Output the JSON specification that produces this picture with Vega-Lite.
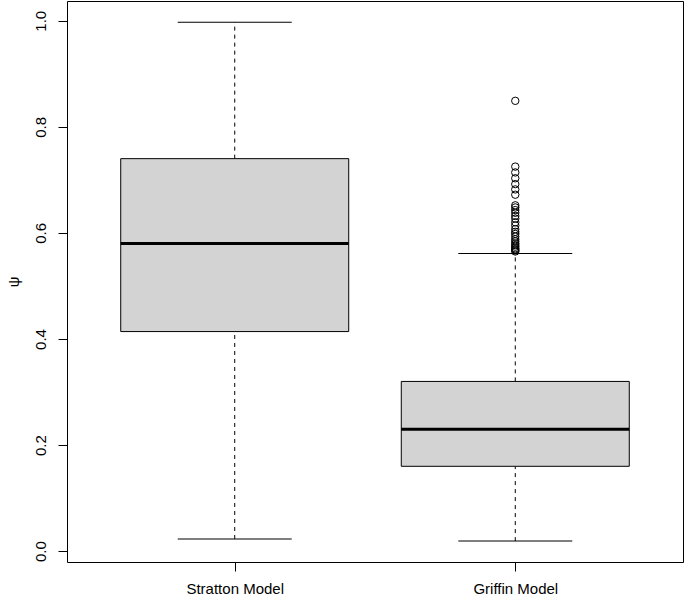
{
  "$schema": "https://vega.github.io/schema/vega-lite/v6.json",
  "width": 616,
  "height": 561,
  "autosize": {"type": "none"},
  "padding": {"left": 67, "top": 1, "right": 2, "bottom": 38},
  "background": "white",
  "config": {
    "view": {"stroke": "black", "strokeWidth": 1},
    "font": "Liberation Sans",
    "axis": {"labelFont": "Liberation Sans", "titleFont": "Liberation Sans", "labelColor": "black", "titleColor": "black", "tickColor": "black", "grid": false, "domain": false}
  },
  "datasets": {
    "stats": [
      {"model": "Stratton Model", "pos": 1, "lo": 0.023, "q1": 0.414, "median": 0.580, "q3": 0.740, "hi": 0.997},
      {"model": "Griffin Model", "pos": 2, "lo": 0.019, "q1": 0.160, "median": 0.230, "q3": 0.320, "hi": 0.561}
    ],
    "outliers": [
      {"pos": 2, "value": 0.849},
      {"pos": 2, "value": 0.725},
      {"pos": 2, "value": 0.714},
      {"pos": 2, "value": 0.703},
      {"pos": 2, "value": 0.692},
      {"pos": 2, "value": 0.682},
      {"pos": 2, "value": 0.672},
      {"pos": 2, "value": 0.652},
      {"pos": 2, "value": 0.648},
      {"pos": 2, "value": 0.643},
      {"pos": 2, "value": 0.638},
      {"pos": 2, "value": 0.632},
      {"pos": 2, "value": 0.627},
      {"pos": 2, "value": 0.620},
      {"pos": 2, "value": 0.614},
      {"pos": 2, "value": 0.607},
      {"pos": 2, "value": 0.602},
      {"pos": 2, "value": 0.598},
      {"pos": 2, "value": 0.593},
      {"pos": 2, "value": 0.588},
      {"pos": 2, "value": 0.584},
      {"pos": 2, "value": 0.580},
      {"pos": 2, "value": 0.577},
      {"pos": 2, "value": 0.574},
      {"pos": 2, "value": 0.571},
      {"pos": 2, "value": 0.569},
      {"pos": 2, "value": 0.567},
      {"pos": 2, "value": 0.565}
    ]
  },
  "layer": [
    {
      "data": {"name": "stats"},
      "mark": {"type": "rule", "color": "black", "strokeWidth": 1, "strokeDash": [4, 4]},
      "encoding": {
        "x": {"field": "pos", "type": "quantitative", "scale": {"domain": [0.42, 2.58], "nice": false, "zero": false},
              "axis": {"values": [1, 2], "labelExpr": "datum.value == 1 ? 'Stratton Model' : 'Griffin Model'", "title": null, "tickSize": 9, "labelFontSize": 15, "labelPadding": 10}},
        "y": {"field": "q3", "type": "quantitative", "scale": {"domain": [-0.0204, 1.0372], "nice": false, "zero": false},
              "axis": {"values": [0, 0.2, 0.4, 0.6, 0.8, 1.0], "format": ".1f", "title": "ψ", "titleFontSize": 15, "titleFontWeight": "normal", "titlePadding": 12, "labelAngle": -90, "labelAlign": "center", "labelBaseline": "bottom", "labelFontSize": 15, "labelPadding": 10, "tickSize": 9}},
        "y2": {"field": "hi"}
      }
    },
    {
      "data": {"name": "stats"},
      "mark": {"type": "rule", "color": "black", "strokeWidth": 1, "strokeDash": [4, 4]},
      "encoding": {
        "x": {"field": "pos", "type": "quantitative"},
        "y": {"field": "lo", "type": "quantitative"},
        "y2": {"field": "q1"}
      }
    },
    {
      "data": {"name": "stats"},
      "mark": {"type": "tick", "orient": "horizontal", "color": "black", "opacity": 1, "size": 114, "thickness": 1},
      "encoding": {
        "x": {"field": "pos", "type": "quantitative"},
        "y": {"field": "hi", "type": "quantitative"}
      }
    },
    {
      "data": {"name": "stats"},
      "mark": {"type": "tick", "orient": "horizontal", "color": "black", "opacity": 1, "size": 114, "thickness": 1},
      "encoding": {
        "x": {"field": "pos", "type": "quantitative"},
        "y": {"field": "lo", "type": "quantitative"}
      }
    },
    {
      "data": {"name": "stats"},
      "mark": {"type": "bar", "size": 228, "fill": "#D3D3D3", "stroke": "black", "strokeWidth": 1},
      "encoding": {
        "x": {"field": "pos", "type": "quantitative"},
        "y": {"field": "q1", "type": "quantitative"},
        "y2": {"field": "q3"}
      }
    },
    {
      "data": {"name": "stats"},
      "mark": {"type": "tick", "orient": "horizontal", "color": "black", "opacity": 1, "size": 228, "thickness": 3},
      "encoding": {
        "x": {"field": "pos", "type": "quantitative"},
        "y": {"field": "median", "type": "quantitative"}
      }
    },
    {
      "data": {"name": "outliers"},
      "mark": {"type": "point", "shape": "circle", "filled": false, "stroke": "black", "strokeWidth": 1, "opacity": 1, "size": 55},
      "encoding": {
        "x": {"field": "pos", "type": "quantitative"},
        "y": {"field": "value", "type": "quantitative"}
      }
    }
  ]
}
